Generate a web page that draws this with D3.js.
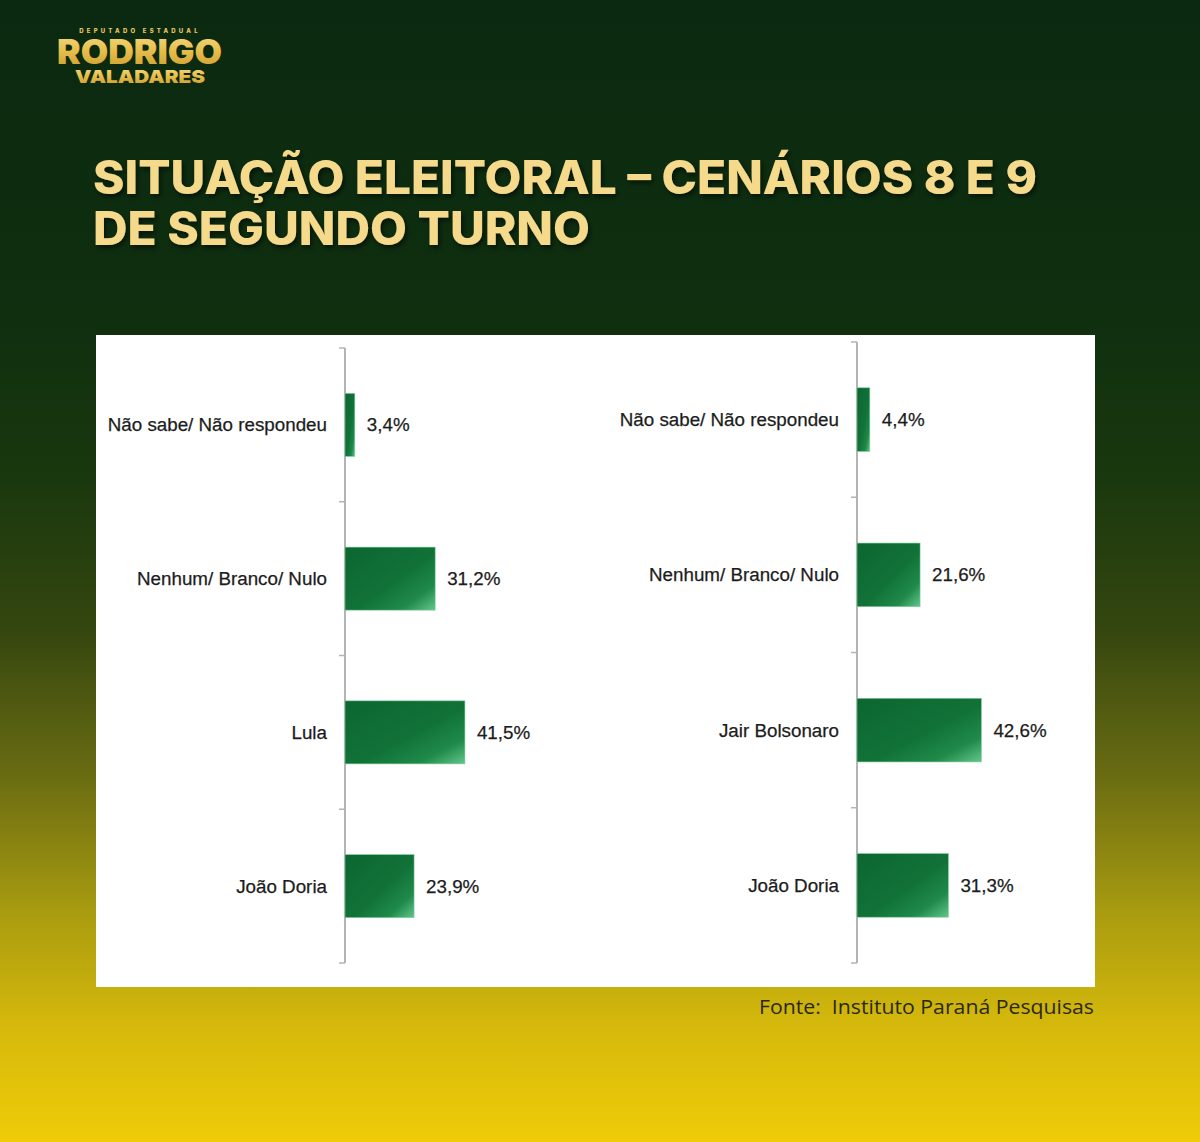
<!DOCTYPE html>
<html><head><meta charset="utf-8">
<script src="https://cdn.jsdelivr.net/npm/d3@7"></script>
<style>html,body{margin:0;padding:0;background:#0b2a10;}svg{display:block;}</style>
</head><body>
<script>
const categoriesLeft = ["Não sabe/ Não respondeu", "Nenhum/ Branco/ Nulo", "Lula", "João Doria"];
const valuesLeft = [3.4, 31.2, 41.5, 23.9];
const categoriesRight = ["Não sabe/ Não respondeu", "Nenhum/ Branco/ Nulo", "Jair Bolsonaro", "João Doria"];
const valuesRight = [4.4, 21.6, 42.6, 31.3];
const titleLines = ["SITUAÇÃO ELEITORAL – CENÁRIOS 8 E 9", "DE SEGUNDO TURNO"];
const sourceText = "Fonte:  Instituto Paraná Pesquisas";

const W = 1200, H = 1142;
const svg = d3.select("body").append("svg").attr("width", W).attr("height", H);
const defs = svg.append("defs");

const bg = defs.append("linearGradient").attr("id", "bg").attr("x1", 0).attr("y1", 0).attr("x2", 0).attr("y2", 1);
[[0, "#0a2910"], [0.28, "#0f2f0f"], [0.42, "#1a380e"], [0.55, "#34460f"], [0.68, "#6a6c12"], [0.8, "#a99c10"], [0.9, "#d6b90b"], [1, "#efcb08"]]
  .forEach(([o, c]) => bg.append("stop").attr("offset", o).attr("stop-color", c));

const barG = defs.append("linearGradient").attr("id", "barg").attr("x1", 0).attr("y1", 0).attr("x2", 1).attr("y2", 1);
[[0, "#0c6631"], [0.55, "#117238"], [0.8, "#1f8a4a"], [1, "#63c68c"]]
  .forEach(([o, c]) => barG.append("stop").attr("offset", o).attr("stop-color", c));

const gold = defs.append("linearGradient").attr("id", "gold").attr("x1", 0).attr("y1", 0).attr("x2", 0).attr("y2", 1);
[[0, "#f6dc85"], [0.5, "#e6bd4a"], [1, "#c99a2a"]]
  .forEach(([o, c]) => gold.append("stop").attr("offset", o).attr("stop-color", c));

const sh = defs.append("filter").attr("id", "sh").attr("x", -0.1).attr("y", -0.3).attr("width", 1.2).attr("height", 1.6);
sh.append("feDropShadow").attr("dx", 2).attr("dy", 3).attr("stdDeviation", 2.5).attr("flood-color", "#000").attr("flood-opacity", 0.55);

svg.append("rect").attr("width", W).attr("height", H).attr("fill", "url(#bg)");

// Logo
const logo = svg.append("g");
logo.append("text").attr("x", 140).attr("y", 33).attr("text-anchor", "middle")
  .attr("font-family", "Inter, sans-serif").attr("font-weight", 800).attr("font-size", 6)
  .attr("letter-spacing", 3.2).attr("fill", "#e8c868").text("DEPUTADO ESTADUAL");
logo.append("text").attr("x", 57).attr("y", 64).attr("textLength", 165).attr("lengthAdjust", "spacingAndGlyphs")
  .attr("font-family", "Inter, sans-serif").attr("font-weight", 900).attr("font-size", 34)
  .attr("fill", "url(#gold)").text("RODRIGO");
logo.append("text").attr("x", 75).attr("y", 83).attr("textLength", 130).attr("lengthAdjust", "spacingAndGlyphs")
  .attr("font-family", "Inter, sans-serif").attr("font-weight", 900).attr("font-size", 18)
  .attr("fill", "url(#gold)").text("VALADARES");

// Title
const tl = svg.append("g").attr("filter", "url(#sh)");
tl.append("text").attr("x", 93).attr("y", 194).attr("textLength", 944).attr("lengthAdjust", "spacingAndGlyphs")
  .attr("font-family", "Inter, sans-serif").attr("font-weight", 800).attr("font-size", 46)
  .attr("fill", "#f6da8b").text(titleLines[0]);
tl.append("text").attr("x", 93).attr("y", 245).attr("textLength", 497).attr("lengthAdjust", "spacingAndGlyphs")
  .attr("font-family", "Inter, sans-serif").attr("font-weight", 800).attr("font-size", 46)
  .attr("fill", "#f6da8b").text(titleLines[1]);

// White panel
svg.append("rect").attr("x", 96).attr("y", 335).attr("width", 999).attr("height", 652).attr("fill", "#ffffff");

function drawChart(cats, vals, axisX, top, bottom, pxPerPct) {
  const g = svg.append("g");
  const x = d3.scaleLinear().domain([0, 100]).range([axisX, axisX + 100 * pxPerPct]);
  const y = d3.scaleBand().domain(cats).range([top, bottom]).paddingInner(0.59).paddingOuter(0.295);
  const step = y.step();
  const data = cats.map((c, i) => ({ c, v: vals[i] }));

  const bounds = d3.range(cats.length + 1).map(i => top + i * step);
  g.append("line").attr("x1", axisX).attr("x2", axisX).attr("y1", top).attr("y2", bottom)
    .attr("stroke", "#b4b4b4").attr("stroke-width", 2);
  g.selectAll(".tk").data(bounds).join("line").attr("class", "tk")
    .attr("x1", axisX - 6).attr("x2", axisX).attr("y1", d => d).attr("y2", d => d)
    .attr("stroke", "#b4b4b4").attr("stroke-width", 1.5);

  g.selectAll(".bar").data(data).join("rect").attr("class", "bar")
    .attr("x", x(0)).attr("y", d => y(d.c)).attr("width", d => x(d.v) - x(0)).attr("height", y.bandwidth())
    .attr("fill", "url(#barg)").attr("stroke", "#7fcf9c").attr("stroke-width", 0.6);

  g.selectAll(".cat").data(data).join("text").attr("class", "cat")
    .attr("x", axisX - 18).attr("y", d => y(d.c) + y.bandwidth() / 2).attr("dy", "0.35em")
    .attr("text-anchor", "end").attr("font-family", "'Liberation Sans', Arial, sans-serif")
    .attr("font-size", 18.8).attr("fill", "#1c1c1c").attr("stroke", "#1c1c1c").attr("stroke-width", 0.25)
    .text(d => d.c);

  g.selectAll(".val").data(data).join("text").attr("class", "val")
    .attr("x", d => x(d.v) + 12).attr("y", d => y(d.c) + y.bandwidth() / 2).attr("dy", "0.35em")
    .attr("font-family", "'Liberation Sans', Arial, sans-serif")
    .attr("font-size", 18.8).attr("fill", "#1c1c1c").attr("stroke", "#1c1c1c").attr("stroke-width", 0.25)
    .text(d => d3.format(".1f")(d.v).replace(".", ",") + "%");
}

drawChart(categoriesLeft, valuesLeft, 345, 348, 963, 2.89);
drawChart(categoriesRight, valuesRight, 857, 342, 963, 2.92);

// Source
svg.append("text").attr("x", 759).attr("y", 1014).attr("textLength", 335).attr("lengthAdjust", "spacingAndGlyphs")
  .attr("font-family", "'Open Sans', sans-serif").attr("font-size", 19.5).attr("fill", "#2a2812")
  .attr("xml:space", "preserve").style("white-space", "pre").text(sourceText);
</script>
</body></html>
